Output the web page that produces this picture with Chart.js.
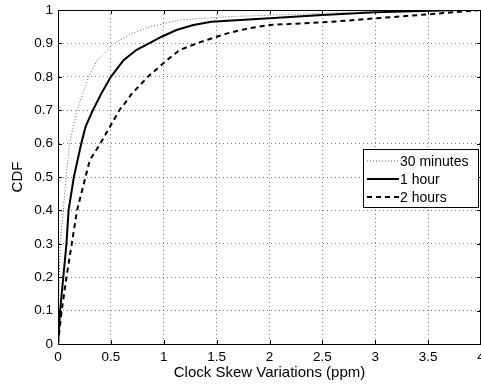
<!DOCTYPE html>
<html>
<head>
<meta charset="utf-8">
<title>Clock Skew Variations CDF</title>
<script src="https://cdn.jsdelivr.net/npm/chart.js"></script>
<style>
    html, body { margin: 0; padding: 0; background: #fff; }
    canvas { display: block; }
</style>
</head>
<body>
<canvas id="mainChart" width="481" height="385"></canvas>
<script>
// CDF of clock skew variations

const seriesLabels = ['30 minutes', '1 hour', '2 hours'];

// 30 minutes (dotted)
const minutesX = [0, 0.005, 0.012, 0.02, 0.05, 0.076, 0.11, 0.18, 0.29, 0.37, 0.53, 0.7, 0.87, 1.15, 1.6, 2.5, 3.3, 4];
const minutesCdf = [0, 0.1, 0.2, 0.3, 0.4, 0.5, 0.6, 0.7, 0.8, 0.85, 0.9, 0.93, 0.95, 0.97, 0.98, 0.99, 1, 1];

// 1 hour (solid)
const hourX = [0, 0.02, 0.05, 0.08, 0.1, 0.15, 0.22, 0.26, 0.33, 0.41, 0.5, 0.62, 0.74, 0.86, 0.98, 1.12, 1.28, 1.45, 2.0, 2.5, 3.0, 3.8, 4];
const hourCdf = [0, 0.1, 0.2, 0.3, 0.4, 0.5, 0.6, 0.65, 0.7, 0.75, 0.8, 0.85, 0.88, 0.9, 0.92, 0.94, 0.955, 0.965, 0.975, 0.985, 0.993, 1, 1];

// 2 hours (dashed)
const twoHourX = [0, 0.035, 0.08, 0.13, 0.18, 0.22, 0.26, 0.3, 0.4, 0.49, 0.58, 0.63, 0.7, 0.85, 1.03, 1.15, 1.31, 1.5, 1.6, 1.8, 2.0, 2.3, 2.6, 3.0, 3.5, 3.8, 4];
const twoHourCdf = [0, 0.1, 0.2, 0.3, 0.4, 0.45, 0.5, 0.55, 0.6, 0.65, 0.7, 0.72, 0.75, 0.8, 0.85, 0.88, 0.9, 0.92, 0.93, 0.945, 0.955, 0.96, 0.965, 0.975, 0.987, 0.995, 1];

// Axis ticks
const xTicks = [0, 0.5, 1, 1.5, 2, 2.5, 3, 3.5, 4];
const yTicks = [0, 0.1, 0.2, 0.3, 0.4, 0.5, 0.6, 0.7, 0.8, 0.9, 1];

const FONT = 'Liberation Sans, Arial, Helvetica, sans-serif';

function toPoints(xs, ys) {
    return xs.map((x, i) => ({ x: x, y: ys[i] }));
}

const lineStyles = [
    { color: '#666', width: 1, dash: [1, 2] },
    { color: '#000', width: 2, dash: [] },
    { color: '#000', width: 2, dash: [5, 4] }
];

/**
 * Matlab-like frame: box around the plot, inner tick marks and the legend
 */
const framePlugin = {
    id: 'frame',
    afterDraw(chart) {
        const { ctx, chartArea: a, scales } = chart;
        ctx.save();
        ctx.strokeStyle = '#000';
        ctx.lineWidth = 1;
        ctx.setLineDash([]);
        ctx.strokeRect(a.left + 0.5, a.top + 0.5, a.right - a.left - 1, a.bottom - a.top);

        // inner tick marks
        ctx.beginPath();
        xTicks.forEach(v => {
            const px = Math.round(scales.x.getPixelForValue(v)) + 0.5;
            ctx.moveTo(px, a.bottom); ctx.lineTo(px, a.bottom - 4);
            ctx.moveTo(px, a.top); ctx.lineTo(px, a.top + 4);
        });
        yTicks.forEach(v => {
            const py = Math.round(scales.y.getPixelForValue(v)) + 0.5;
            ctx.moveTo(a.left, py); ctx.lineTo(a.left + 4, py);
            ctx.moveTo(a.right, py); ctx.lineTo(a.right - 4, py);
        });
        ctx.stroke();

        // legend box
        const box = { x: 363, y: 149.5, w: 115, h: 58 };
        ctx.fillStyle = '#fff';
        ctx.fillRect(box.x, box.y, box.w, box.h);
        ctx.strokeRect(box.x + 0.5, box.y, box.w, box.h);

        ctx.font = '14px ' + FONT;
        ctx.textBaseline = 'middle';
        ctx.textAlign = 'left';
        seriesLabels.forEach((label, i) => {
            const s = lineStyles[i];
            const y = 161 + i * 18;
            ctx.beginPath();
            ctx.strokeStyle = s.color;
            ctx.lineWidth = s.width;
            ctx.setLineDash(s.dash);
            ctx.moveTo(367, y);
            ctx.lineTo(399, y);
            ctx.stroke();
            ctx.fillStyle = '#000';
            ctx.fillText(label, 400, y + 1);
        });
        ctx.restore();
    }
};

const numberLabel = v => String(Number(v.toFixed(2)));

const ctx = document.getElementById('mainChart');
const chart = new Chart(ctx, {
    type: 'line',
    data: {
        datasets: [
            { data: toPoints(minutesX, minutesCdf) },
            { data: toPoints(hourX, hourCdf) },
            { data: toPoints(twoHourX, twoHourCdf) }
        ].map((d, i) => ({
            label: seriesLabels[i],
            data: d.data,
            borderColor: lineStyles[i].color,
            borderWidth: lineStyles[i].width,
            borderDash: lineStyles[i].dash,
            pointRadius: 0,
            tension: 0,
            fill: false
        }))
    },
    options: {
        responsive: false,
        animation: false,
        layout: { padding: { top: 10, right: 0, left: 0, bottom: 0 } },
        plugins: {
            legend: { display: false },
            tooltip: { enabled: false }
        },
        scales: {
            x: {
                type: 'linear',
                min: 0,
                max: 4,
                afterBuildTicks: scale => { scale.ticks = xTicks.map(v => ({ value: v })); },
                afterFit: scale => {
                    scale.height = 41;
                    scale.paddingLeft = 0;
                    scale.paddingRight = 0;
                },
                grid: { color: 'rgba(0,0,0,0.5)', lineWidth: 1, drawTicks: false },
                border: { display: true, color: '#000', width: 1, dash: [1, 3] },
                ticks: {
                    color: '#000',
                    padding: 5,
                    maxRotation: 0,
                    autoSkip: false,
                    font: { family: FONT, size: 13.5 },
                    callback: numberLabel
                },
                title: {
                    display: true,
                    text: 'Clock Skew Variations (ppm)',
                    color: '#000',
                    font: { family: FONT, size: 15 },
                    padding: { top: 0, bottom: 3 }
                }
            },
            y: {
                type: 'linear',
                min: 0,
                max: 1,
                afterBuildTicks: scale => { scale.ticks = yTicks.map(v => ({ value: v })); },
                afterFit: scale => {
                    scale.width = 58;
                    scale.paddingTop = 0;
                    scale.paddingBottom = 0;
                },
                grid: { color: 'rgba(0,0,0,0.5)', lineWidth: 1, drawTicks: false },
                border: { display: true, color: '#000', width: 1, dash: [1, 3] },
                ticks: {
                    color: '#000',
                    padding: 5,
                    autoSkip: false,
                    font: { family: FONT, size: 13.5 },
                    callback: numberLabel
                },
                title: {
                    display: true,
                    text: 'CDF',
                    color: '#000',
                    font: { family: FONT, size: 15 },
                    padding: { top: 9, bottom: 0 }
                }
            }
        }
    },
    plugins: [framePlugin]
});
</script>
</body>
</html>
